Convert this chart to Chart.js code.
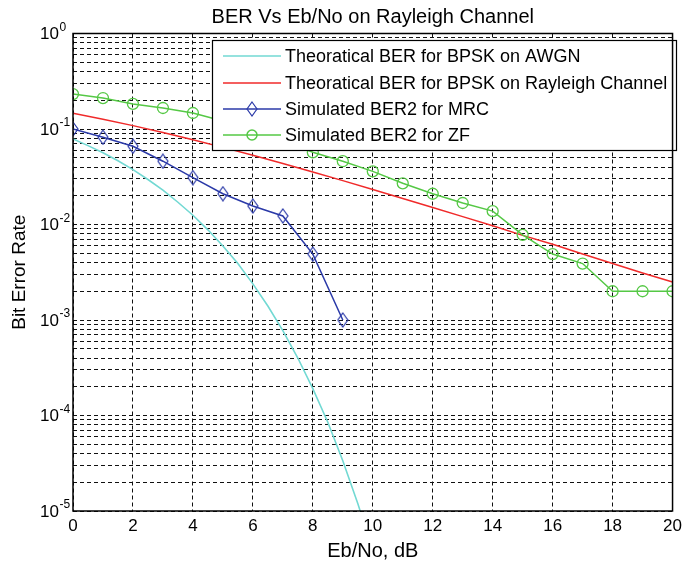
<!DOCTYPE html>
<html>
<head>
<meta charset="utf-8">
<script src="https://cdn.jsdelivr.net/npm/chart.js@4.4.1/dist/chart.umd.min.js"></script>
<style>
  html, body { margin: 0; padding: 0; background: #fff; }
  canvas { display: block; }
</style>
</head>
<body>
<canvas id="berChart" width="687" height="566"></canvas>
<script>
// theoretical curves
var ebnoAwgn = [0, 0.5, 1, 1.5, 2, 2.5, 3, 3.5, 4, 4.5, 5, 5.5, 6, 6.5, 7, 7.5, 8, 8.5, 9, 9.5, 10];
var berAwgn = [0.0786, 0.0670, 0.0563, 0.0465, 0.0375, 0.0296, 0.0229, 0.0171, 0.0125, 0.0088, 0.00595,
    0.0039, 0.00239, 0.0014, 0.000773, 0.00040, 0.000191, 0.000085, 0.0000336, 0.000012, 0.00000387];

var ebnoRayleigh = [0, 1, 2, 3, 4, 5, 6, 7, 8, 9, 10, 11, 12, 13, 14, 15, 16, 17, 18, 19, 20];
var berRayleigh = [0.1464, 0.1267, 0.1085, 0.0919, 0.0771, 0.0642, 0.0530, 0.0435, 0.0355, 0.0288, 0.0233,
    0.0187, 0.0151, 0.0121, 0.0097, 0.0077, 0.0062, 0.0049, 0.0039, 0.0031, 0.0025];

// simulated
var ebnoMrc = [0, 1, 2, 3, 4, 5, 6, 7, 8, 9];
var berMrc = [0.1, 0.082, 0.066, 0.046, 0.031, 0.021, 0.0156, 0.0123, 0.0049, 0.001];

var ebnoZf = [0, 1, 2, 3, 4, 5, 6, 7, 8, 9, 10, 11, 12, 13, 14, 15, 16, 17, 18, 19, 20];
var berZf = [0.232, 0.211, 0.183, 0.166, 0.147, 0.121, 0.098, 0.076, 0.057, 0.046, 0.036,
    0.027, 0.021, 0.0168, 0.0138, 0.0078, 0.0049, 0.0039, 0.002, 0.002, 0.002];

var seriesNames = [
    'Theoratical BER for BPSK on AWGN',
    'Theoratical BER for BPSK on Rayleigh Channel',
    'Simulated BER2 for MRC',
    'Simulated BER2 for ZF'
];
var chartTitle = 'BER Vs Eb/No on Rayleigh Channel';

var xTicks = [0, 2, 4, 6, 8, 10, 12, 14, 16, 18, 20];
var yDecades = [1e-5, 1e-4, 1e-3, 1e-2, 1e-1, 1];
var yExponents = ['-5', '-4', '-3', '-2', '-1', '0'];

var FONT = "'Liberation Sans', Arial, sans-serif";
var colCyan = '#72d9d3', colRed = '#f02a2a', colBlue = '#2b3aa8', colGreen = '#55c845';

function pairs(xs, ys) {
    return xs.map(function (x, i) { return { x: x, y: ys[i] }; });
}

// MATLAB style diamond (a bit taller than wide)
function diamondMarker(color) {
    var c = document.createElement('canvas');
    c.width = 12; c.height = 16;
    var g = c.getContext('2d');
    g.strokeStyle = color;
    g.lineWidth = 1.2;
    g.beginPath();
    g.moveTo(6, 1); g.lineTo(11, 8); g.lineTo(6, 15); g.lineTo(1, 8); g.closePath();
    g.stroke();
    return c;
}
var diamond = diamondMarker(colBlue);

// dashed grid at 1..9 x 10^k
function logGridTicks(scale) {
    var t = [];
    for (var d = 0; d < yDecades.length - 1; d++) {
        for (var m = 1; m < 10; m++) t.push({ value: yDecades[d] * m });
    }
    t.push({ value: yDecades[yDecades.length - 1] });
    scale.ticks = t;
}

var boxAndLegend = {
    id: 'boxAndLegend',
    afterDatasetsDraw: function (chart) {
        var ctx = chart.ctx, a = chart.chartArea;
        ctx.save();
        // legend box
        var lx = 212, ly = 40, lw = 464, lh = 110;
        ctx.fillStyle = '#fff';
        ctx.fillRect(lx, ly, lw, lh);
        ctx.strokeStyle = '#000';
        ctx.lineWidth = 1.2;
        ctx.strokeRect(lx + 0.5, ly + 0.5, lw, lh);

        var rowY = [56, 83, 109, 135];
        var cols = [colCyan, colRed, colBlue, colGreen];
        ctx.font = '18px ' + FONT;
        ctx.textBaseline = 'middle';
        ctx.textAlign = 'left';
        for (var i = 0; i < 4; i++) {
            ctx.strokeStyle = cols[i];
            ctx.lineWidth = 1.5;
            ctx.beginPath();
            ctx.moveTo(223, rowY[i]);
            ctx.lineTo(281, rowY[i]);
            ctx.stroke();
            if (i === 2) ctx.drawImage(diamond, 252 - 6, rowY[i] - 8);
            if (i === 3) {
                ctx.beginPath();
                ctx.arc(252, rowY[i], 5, 0, Math.PI * 2);
                ctx.stroke();
            }
            ctx.fillStyle = '#000';
            ctx.fillText(seriesNames[i], 285, rowY[i] + 1);
        }

        // plot box
        ctx.strokeStyle = '#000';
        ctx.lineWidth = 1.5;
        ctx.strokeRect(a.left, a.top, a.right - a.left, a.bottom - a.top);
        ctx.restore();
    },
    afterDraw: function (chart) {
        var ctx = chart.ctx, ys = chart.scales.y, a = chart.chartArea;
        ctx.save();
        ctx.fillStyle = '#000';
        // title centred over the axes
        ctx.font = '20px ' + FONT;
        ctx.textAlign = 'center';
        ctx.textBaseline = 'middle';
        ctx.fillText(chartTitle, (a.left + a.right) / 2, 17);
        // y tick labels 10^k
        ctx.textAlign = 'left';
        yDecades.forEach(function (v, i) {
            var py = ys.getPixelForValue(v);
            ctx.font = '17px ' + FONT;
            ctx.fillText('10', 40, py + 1);
            var w = ctx.measureText('10').width;
            ctx.font = '12px ' + FONT;
            ctx.fillText(yExponents[i], 40 + w + 0.5, py - 6);
        });
        ctx.restore();
    }
};

var ctx = document.getElementById('berChart');

var berChart = new Chart(ctx, {
    type: 'line',
    data: {
        datasets: [{
            label: seriesNames[0],
            data: pairs(ebnoAwgn, berAwgn),
            borderColor: colCyan,
            borderWidth: 1.6,
            pointRadius: 0,
            order: 4
        }, {
            label: seriesNames[1],
            data: pairs(ebnoRayleigh, berRayleigh),
            borderColor: colRed,
            borderWidth: 1.5,
            pointRadius: 0,
            order: 3
        }, {
            label: seriesNames[2],
            data: pairs(ebnoMrc, berMrc),
            borderColor: colBlue,
            borderWidth: 1.5,
            pointStyle: diamond,
            pointRadius: 6,
            order: 2
        }, {
            label: seriesNames[3],
            data: pairs(ebnoZf, berZf),
            borderColor: colGreen,
            borderWidth: 1.5,
            pointStyle: 'circle',
            pointRadius: 5.5,
            pointBorderWidth: 1.3,
            pointBackgroundColor: 'rgba(0,0,0,0)',
            pointBorderColor: colGreen,
            order: 1
        }]
    },
    options: {
        responsive: false,
        animation: false,
        layout: { padding: { left: 0, right: 10, top: 33.5, bottom: 0 } },
        plugins: {
            legend: { display: false },
            tooltip: { enabled: false },
            title: { display: false }
        },
        scales: {
            x: {
                type: 'linear',
                min: 0,
                max: 20,
                afterBuildTicks: function (scale) {
                    scale.ticks = xTicks.map(function (v) { return { value: v }; });
                },
                afterFit: function (scale) { scale.height = 55; },
                ticks: {
                    color: '#000',
                    font: { family: FONT, size: 17 },
                    padding: 5,
                    maxRotation: 0,
                    autoSkip: false
                },
                grid: { color: '#111', lineWidth: 1, drawTicks: false },
                border: { display: false, dash: [4, 3] },
                title: {
                    display: true,
                    text: 'Eb/No, dB',
                    color: '#000',
                    font: { family: FONT, size: 20 },
                    padding: { top: 0, bottom: 3 }
                }
            },
            y: {
                type: 'logarithmic',
                min: 1e-5,
                max: 1,
                afterBuildTicks: logGridTicks,
                afterFit: function (scale) { scale.width = 73; },
                ticks: { display: false },
                grid: { color: '#111', lineWidth: 1, drawTicks: false },
                border: { display: false, dash: [4, 3] },
                title: {
                    display: true,
                    text: 'Bit Error Rate',
                    color: '#000',
                    font: { family: FONT, size: 19 },
                    padding: { top: 8 }
                }
            }
        }
    },
    plugins: [boxAndLegend]
});
</script>
</body>
</html>
